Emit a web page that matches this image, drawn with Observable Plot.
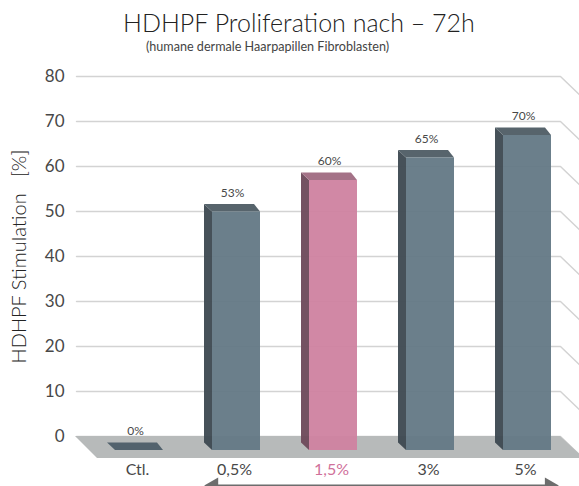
<!DOCTYPE html>
<html>
<head>
<meta charset="utf-8">
<script src="https://cdn.jsdelivr.net/npm/d3@7"></script>
<script src="https://cdn.jsdelivr.net/npm/@observablehq/plot@0.6"></script>
<style>
  body { margin: 0; background: #fff; font-family: Lato, "Open Sans", sans-serif; }
  #wrap { position: relative; width: 579px; height: 486px; overflow: hidden; }
  #chart { position: absolute; left: 0; top: 0; }
  #title { position: absolute; left: 19px; top: 7px; width: 560px; text-align: center;
           font-size: 25px; line-height: 30px; color: #222; font-weight: 300; white-space: nowrap; }
  #subtitle { position: absolute; left: -22px; top: 40px; width: 579px; text-align: center;
              font-size: 12.6px; line-height: 14px; color: #444; font-weight: 400; white-space: nowrap; }
  svg text { white-space: pre; }
</style>
</head>
<body>
<div id="wrap">
  <div id="chart"></div>
  <div id="title">HDHPF Proliferation nach – 72h</div>
  <div id="subtitle">(humane dermale Haarpapillen Fibroblasten)</div>
</div>
<script>
// ---- data ----
const categories = ["Ctl.", "0,5%", "1,5%", "3%", "5%"];
const values = [0, 53, 60, 65, 70];
const valueLabels = ["0%", "53%", "60%", "65%", "70%"];
const highlighted = [false, false, true, false, false];
const yTicks = [0, 10, 20, 30, 40, 50, 60, 70, 80];
const yLabel = "HDHPF Stimulation\u00a0\u00a0\u00a0[%]";

// ---- styling / 3D geometry (pixels) ----
const PX_X = 97;       // pixels per category step
const PX_Y = 4.5;      // pixels per percent
const ux = 1 / PX_X, uy = 1 / PX_Y;
const HALF_W = 24, FRONT_DROP = 14, DEPTH_Y = 7.5, DEPTH_XL = 8, DEPTH_XR = 6;
const colors = {
  front: "#637885", side: "#3e4a52", top: "#505e66",
  hFront: "#cf82a0", hSide: "#6e4b5c", hTop: "#a06c82",
  floor: "#b7baba", grid: "#d3d3d3", text: "#484848", hText: "#d0709a", arrow: "#6d6d6d"
};

const base = -FRONT_DROP * uy;
const dY = DEPTH_Y * uy;

const fronts = [], sides = [], tops = [];
values.forEach((v, i) => {
  const h = highlighted[i];
  const L = i - HALF_W * ux, R = i + HALF_W * ux;
  const t = base + v;
  fronts.push({L, R, b: base, t, fill: h ? colors.hFront : colors.front});
  sides.push({id: i, x1: L, y1: base, x2: L, y2: t, fill: h ? colors.hSide : colors.side});
  sides.push({id: i, x1: L - DEPTH_XL * ux, y1: base + dY, x2: L - DEPTH_XL * ux, y2: t + dY, fill: h ? colors.hSide : colors.side});
  const topFill = v === 0 ? "#4e5f6a" : (h ? colors.hTop : colors.top);
  tops.push({id: i, x1: L, y1: t, x2: R, y2: t, fill: topFill});
  tops.push({id: i, x1: L - DEPTH_XL * ux, y1: t + dY, x2: R - DEPTH_XR * ux, y2: t + dY, fill: topFill});
});

// back wall gridlines with a right side wall bend
const GRID_L = -0.649, GRID_R = 4.34, SIDE_DX = 24 * ux, SIDE_DY = -23 * uy;
const grid = [];
yTicks.forEach(tk => {
  grid.push({tk, x: GRID_L, y: tk});
  grid.push({tk, x: GRID_R, y: tk});
  grid.push({tk, x: GRID_R + SIDE_DX, y: tk + SIDE_DY});
});

// floor
const FLOOR_DROP = -22 * uy;
const floor = [
  {x1: -0.66, y1: 0, x2: -0.66 + 22 * ux, y2: FLOOR_DROP},
  {x1: GRID_R, y1: 0, x2: GRID_R + SIDE_DX, y2: FLOOR_DROP}
];

const labelRows = values.map((v, i) => ({x: i - 4 * ux, y: base + v, label: valueLabels[i]}));
const catRows = categories.map((c, i) => ({x: i - 2 * ux, c, fill: highlighted[i] ? colors.hText : colors.text}));

const arrowLine = [{x1: 0.70, x2: 4.29}];
const arrowHeads = [{x: 0.763, r: -90}, {x: 4.227, r: 90}];

const chart = Plot.plot({
  width: 579,
  height: 486,
  marginTop: 76,
  marginBottom: 50,
  marginLeft: 70,
  marginRight: 0,
  style: {fontFamily: "Lato, 'Open Sans', sans-serif", background: "transparent", overflow: "hidden"},
  x: {type: "linear", domain: [0, 4], range: [139, 527], axis: null},
  y: {domain: [0, 80], range: [436, 76], axis: null},
  color: {type: "identity"},
  marks: [
    Plot.line(grid, {x: "x", y: "y", z: "tk", stroke: colors.grid, strokeWidth: 1.5}),
    Plot.area(floor, {x1: "x1", y1: "y1", x2: "x2", y2: "y2", fill: colors.floor}),
    Plot.area(sides, {x1: "x1", y1: "y1", x2: "x2", y2: "y2", z: "id", fill: "fill", fillOpacity: 0.96}),
    Plot.area(tops, {x1: "x1", y1: "y1", x2: "x2", y2: "y2", z: "id", fill: "fill", fillOpacity: 0.96}),
    Plot.rect(fronts, {x1: "L", x2: "R", y1: "b", y2: "t", fill: "fill", fillOpacity: 0.95}),
    Plot.text(labelRows, {x: "x", y: "y", text: "label", dy: -19, fontSize: 12, fill: colors.text}),
    Plot.axisY(yTicks, {anchor: "left", tickSize: 0, tickPadding: 6, fontSize: 17, fill: colors.text, label: null}),
    Plot.text([yLabel], {frameAnchor: "left", dx: -51, rotate: -90, fontSize: 20, fontWeight: 300, fill: "#222", textAnchor: "middle", lineAnchor: "middle"}),
    Plot.text(catRows, {x: "x", frameAnchor: "bottom", dy: 33, text: "c", fill: "fill", fontSize: 16, lineAnchor: "middle"}),
    Plot.ruleY(arrowLine, {x1: "x1", x2: "x2", y: () => 0, dy: 49, stroke: colors.arrow, strokeWidth: 2}),
    Plot.dot(arrowHeads, {x: "x", y: () => 0, dy: 49, symbol: "triangle", rotate: "r", r: 6, fill: colors.arrow, stroke: "none"})
  ]
});
document.getElementById("chart").appendChild(chart);
</script>
</body>
</html>
